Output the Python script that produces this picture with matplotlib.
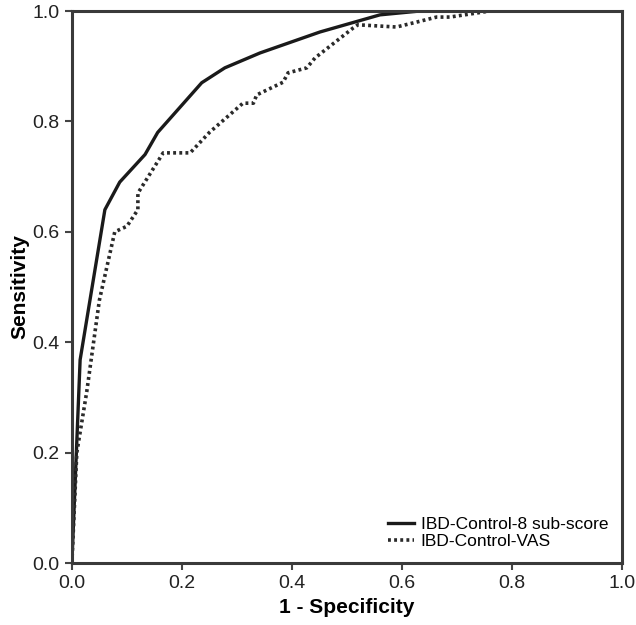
import matplotlib
matplotlib.use("Agg")
import matplotlib.pyplot as plt

plt.rcParams.update({
    "font.family": ["Liberation Sans", "DejaVu Sans"],
    "font.size": 12,
})

# ROC curve points
fpr_ctrl8 = [0.0, 0.015, 0.060, 0.087, 0.133, 0.156, 0.236, 0.278,
             0.342, 0.451, 0.560, 0.633, 1.0]
tpr_ctrl8 = [0.0, 0.368, 0.640, 0.690, 0.740, 0.780, 0.870, 0.897,
             0.924, 0.962, 0.993, 1.0, 1.0]

fpr_vas = [0.0, 0.009, 0.027, 0.050, 0.078, 0.100, 0.120, 0.120, 0.166,
           0.215, 0.250, 0.311, 0.330, 0.336, 0.384, 0.393, 0.427, 0.442,
           0.511, 0.520, 0.590, 0.627, 0.663, 0.687, 0.760, 1.0]
tpr_vas = [0.0, 0.200, 0.310, 0.476, 0.600, 0.610, 0.640, 0.670, 0.743,
           0.743, 0.780, 0.833, 0.833, 0.848, 0.871, 0.888, 0.897, 0.915,
           0.969, 0.975, 0.971, 0.980, 0.989, 0.989, 1.0, 1.0]

ticks = [0.0, 0.2, 0.4, 0.6, 0.8, 1.0]

fig = plt.figure(figsize=(6.36, 6.25), dpi=100)
ax = fig.add_axes([0.113, 0.0992, 0.865, 0.8832])

ax.plot(fpr_ctrl8, tpr_ctrl8, color="#1a1a1a", linewidth=2.4,
        solid_joinstyle="round", label="IBD-Control-8 sub-score")
ax.plot(fpr_vas, tpr_vas, color="#2a2a2a", linewidth=2.6,
        linestyle=(0, (0.8, 0.9)), dash_capstyle="butt",
        label="IBD-Control-VAS")

ax.set_xlim(0, 1)
ax.set_ylim(0, 1)
ax.set_xticks(ticks)
ax.set_yticks(ticks)
ax.set_xticklabels([f"{t:.1f}" for t in ticks], fontsize=14)
ax.set_yticklabels([f"{t:.1f}" for t in ticks], fontsize=14)
ax.tick_params(direction="out", length=5, width=1.5, color="#444444",
               pad=4, labelcolor="#222222")
for s in ax.spines.values():
    s.set_linewidth(2.2)
    s.set_color("#3a3a3a")

ax.set_xlabel("1 - Specificity", fontsize=15, fontweight="bold", labelpad=4)
ax.set_ylabel("Sensitivity", fontsize=15, fontweight="bold", labelpad=2)

ax.legend(loc="lower right", frameon=False, fontsize=12.5, handlelength=1.5,
          handletextpad=0.4, labelspacing=0.1, borderaxespad=0.4)

fig.savefig("out.png", dpi=100)
